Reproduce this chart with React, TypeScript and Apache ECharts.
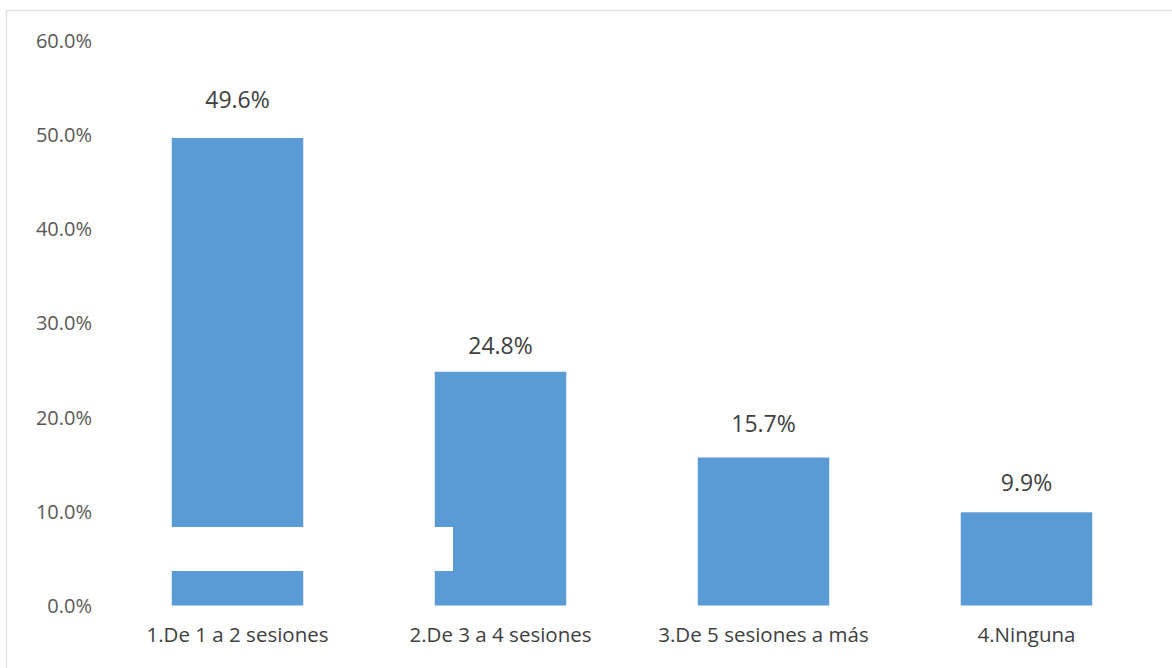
import React, { useEffect, useRef } from "react";
import * as echarts from "echarts";

const categories = [
  "1.De 1 a 2 sesiones",
  "2.De 3 a 4 sesiones",
  "3.De 5 sesiones a más",
  "4.Ninguna",
];
const values = [49.6, 24.8, 15.7, 9.9];
const yTicks = { min: 0, max: 60, interval: 10 };
// label gap above each bar (style only)
const labelGaps = [28, 15, 23, 19];

export default function App() {
  const ref = useRef<HTMLDivElement>(null);
  useEffect(() => {
    if (!ref.current) return;
    const chart = echarts.init(ref.current, null, { renderer: "svg" });
    const font = "'Open Sans', sans-serif";
    chart.setOption({
      animation: false,
      backgroundColor: "#ffffff",
      grid: { left: 106, right: 14, top: 40, bottom: 62.5 },
      xAxis: {
        type: "category",
        data: categories,
        axisLine: { show: false },
        axisTick: { show: false },
        axisLabel: {
          interval: 0,
          color: "#404040",
          fontSize: 20.5,
          fontFamily: font,
          margin: 18,
        },
      },
      yAxis: {
        type: "value",
        min: yTicks.min,
        max: yTicks.max,
        interval: yTicks.interval,
        splitLine: { show: false },
        axisLine: { show: false },
        axisTick: { show: false },
        axisLabel: {
          color: "#595959",
          fontSize: 20,
          fontFamily: font,
          margin: 14,
          formatter: (v: number) => v.toFixed(1) + "%",
        },
      },
      series: [
        {
          type: "bar",
          data: values.map((v, i) => ({
            value: v,
            label: { distance: labelGaps[i] },
          })),
          barWidth: "50%",
          itemStyle: { color: "#5B9BD5" },
          label: {
            show: true,
            position: "top",
            color: "#404040",
            fontSize: 23,
            fontFamily: font,
            formatter: (p: any) => Number(p.value).toFixed(1) + "%",
          },
        },
      ],
      graphic: [
        {
          type: "line",
          shape: { x1: 6.5, y1: 10.5, x2: 1172, y2: 10.5 },
          style: { stroke: "#e3e3e3", lineWidth: 1.5 },
          silent: true,
        },
        {
          type: "line",
          shape: { x1: 6.5, y1: 10.5, x2: 6.5, y2: 668 },
          style: { stroke: "#e3e3e3", lineWidth: 1.5 },
          silent: true,
        },
        {
          type: "rect",
          shape: { x: 160, y: 527, width: 293, height: 44 },
          style: { fill: "#ffffff" },
          silent: true,
          z: 100,
        },
      ],
    });
    return () => chart.dispose();
  }, []);
  return (
    <div
      ref={ref}
      style={{ position: "fixed", left: 0, top: 0, width: 1172, height: 668 }}
    />
  );
}
